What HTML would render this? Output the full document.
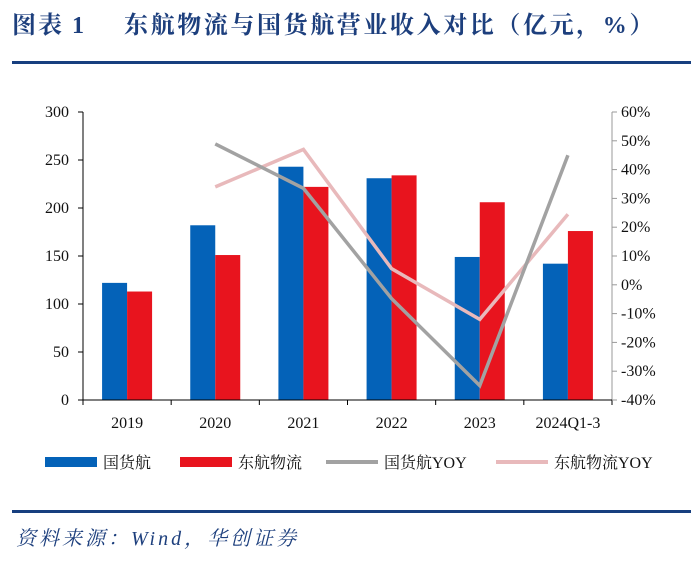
<!DOCTYPE html>
<html><head><meta charset="utf-8"><style>
body{margin:0;background:#fff;width:691px;height:556px;overflow:hidden;font-family:"Liberation Serif","Noto Serif CJK SC",serif}
</style></head><body>
<svg id="chart" width="691" height="556" xmlns="http://www.w3.org/2000/svg">
<text x="12" y="33" font-size="24" font-weight="bold" fill="#1d3f7d" letter-spacing="2" font-family="Liberation Serif, Noto Serif CJK SC, serif">图表 1</text>
<text x="124" y="33" font-size="24" font-weight="bold" fill="#1d3f7d" letter-spacing="2.6" font-family="Liberation Serif, Noto Serif CJK SC, serif">东航物流与国货航营业收入对比（亿元，%）</text>
<rect x="12" y="61" width="679" height="3" fill="#173f7f"/>
<g id="plot"></g>
<rect x="12" y="510" width="679" height="3" fill="#173f7f"/>
<text x="16" y="545" font-size="20" font-style="italic" letter-spacing="3" fill="#1d3f7d" font-family="Liberation Serif, Noto Serif CJK SC, serif">资料来源：Wind，华创证券</text>
</svg>
<script>
const categories=["2019","2020","2021","2022","2023","2024Q1-3"];
const guohuo=[122,182,243,231,149,142];
const donghang=[113,151,222,234,206,176];
const guohuoYoy=[null,48.9,33.5,-4.8,-35,45];
const donghangYoy=[null,34,47,5.6,-12,24.5];
const leftTicks=[0,50,100,150,200,250,300];
const rightTicks=[-40,-30,-20,-10,0,10,20,30,40,50,60];
const NS="http://www.w3.org/2000/svg";
const X0=83,X1=612,YT=112,YB=400;
const band=(X1-X0)/categories.length;
const xc=i=>X0+band*(i+0.5);
const yL=v=>YB-(v/300)*(YB-YT);
const yR=v=>YB-((v+40)/100)*(YB-YT);
const g=document.getElementById('plot');
function mk(t,a){const e=document.createElementNS(NS,t);for(const k in a)e.setAttribute(k,a[k]);g.appendChild(e);return e;}
categories.forEach((c,i)=>{
 let b=mk('rect',{x:xc(i)-25,y:yL(guohuo[i]),width:25,height:YB-yL(guohuo[i]),fill:'#0462b8'});
 
 
 let r=mk('rect',{x:xc(i),y:yL(donghang[i]),width:25,height:YB-yL(donghang[i]),fill:'#e8141e'});
 
 
 let t=mk('text',{x:xc(i),y:YB+28,'font-size':16,'text-anchor':'middle',fill:'#111'});t.textContent=c;
 
 
});
function line(arr,col,name){
 let p=[];arr.forEach((v,i)=>{if(v!==null)p.push(xc(i)+','+yR(v));});
 let l=mk('polyline',{points:p.join(' '),fill:'none',stroke:col,'stroke-width':3.5});
 
 
}
line(donghangYoy,'#e8b9bb','line-donghang-yoy');
line(guohuoYoy,'#a2a2a2','line-guohuo-yoy');
let la=mk('line',{x1:X0,y1:YT,x2:X0,y2:YB,stroke:'#000','stroke-width':1});


let ra=mk('line',{x1:X1,y1:YT,x2:X1,y2:YB,stroke:'#999','stroke-width':1});


let xa=mk('line',{x1:X0,y1:YB,x2:X1,y2:YB,stroke:'#000','stroke-width':1});


for(let i=0;i<=categories.length;i++)mk('line',{x1:X0+band*i,y1:YB,x2:X0+band*i,y2:YB+5,stroke:'#000'});
leftTicks.forEach(v=>{mk('line',{x1:X0-5,y1:yL(v),x2:X0,y2:yL(v),stroke:'#000'});
 let t=mk('text',{x:X0-14,y:yL(v)+5,'font-size':16,'text-anchor':'end',fill:'#111'});t.textContent=v;
 
 });
rightTicks.forEach(v=>{mk('line',{x1:X1,y1:yR(v),x2:X1+5,y2:yR(v),stroke:'#999'});
 let t=mk('text',{x:X1+9,y:yR(v)+5,'font-size':16,fill:'#111'});t.textContent=v+'%';
 
 });
const leg=[['国货航','#0462b8',45,10],['东航物流','#e8141e',180,10],['国货航YOY','#a2a2a2',326,4],['东航物流YOY','#e8b9bb',496,4]];
leg.forEach(([n,c,x,h])=>{
 let s=mk('rect',{x:x,y:462-h/2,width:52,height:h,fill:c});
 
 
 let t=mk('text',{x:x+58,y:468,'font-size':16,fill:'#111'});t.textContent=n;
 
 
});
</script>
</body></html>
